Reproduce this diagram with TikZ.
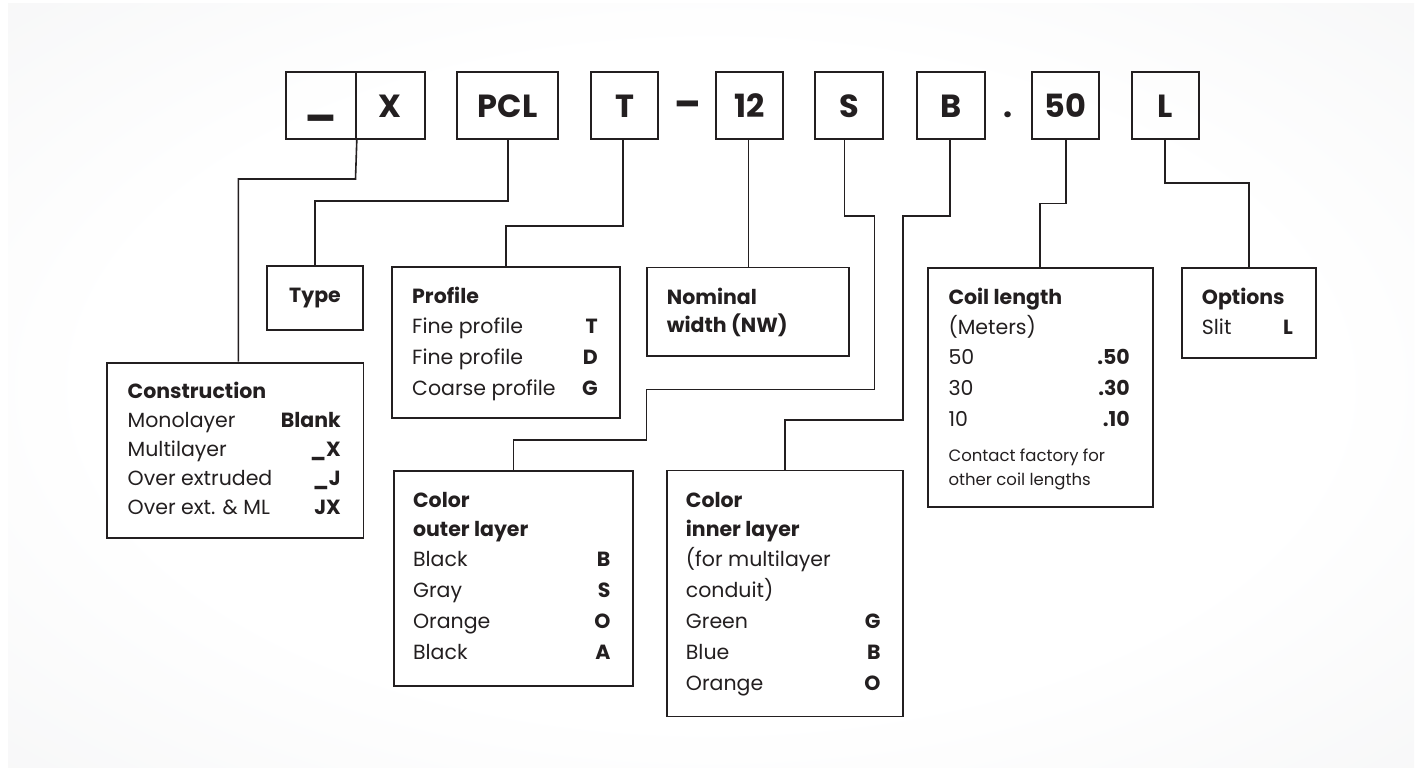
\documentclass[tikz,border=0pt]{standalone}
\usepackage{fontspec}
\setmainfont{Poppins}
\definecolor{ink}{HTML}{231F20}
\definecolor{bggray}{HTML}{E3E4E6}
\pgfdeclareradialshading{bgshade}{\pgfpoint{0bp}{0bp}}{color(0bp)=(white); color(22bp)=(white); color(72bp)=(bggray); color(100bp)=(bggray)}
\newcommand\bodyfont{\fontsize{20.5}{25}\selectfont}
\newcommand\smallfont{\fontsize{16.5}{20}\selectfont}
\newcommand\rowtext[6]{%
  \node[lab] (#1l) at (#2,#4) {#5};
  \node[val] (#1r) at (#3,#4) {#6};}
\begin{document}
\begin{tikzpicture}[x=1pt,y=-1pt,
  codebox/.style={draw=ink, line width=2.2pt, minimum height=67pt, inner sep=0pt,
    text=ink, font=\fontsize{32}{32}\selectfont\bfseries, text height=23pt, text depth=0pt},
  infobox/.style={draw=ink, line width=1.8pt, fill=white, inner sep=0pt, anchor=north west},
  conn/.style={draw=ink, line width=1.6pt, line join=miter},
  lab/.style={anchor=base west, inner sep=0pt, font=\bodyfont, text=ink},
  val/.style={anchor=base east, inner sep=0pt, font=\bodyfont\bfseries, text=ink},
  head/.style={lab, font=\bodyfont\bfseries},
  note/.style={anchor=base west, inner sep=0pt, font=\smallfont, text=ink},
  sep/.style={inner sep=0pt, anchor=base, text=ink, font=\fontsize{32}{32}\selectfont\bfseries}]
% canvas and background panel
\useasboundingbox (0,0) rectangle (1421,768);
\fill[white] (0,0) rectangle (1421,768);
\shade[shading=bgshade] (8,4) rectangle (1414,768);

% code boxes
\node[codebox, minimum width=70pt] (bU) at (320.7,105.5) {\raisebox{4pt}{\scalebox{1.3}[1.2]{\_}}};
\node[codebox, minimum width=69pt] (bX) at (390.2,105.5) {X};
\node[codebox, minimum width=101.3pt] (bPCL) at (507.7,105.5) {PCL};
\node[codebox, minimum width=67.6pt] (bT) at (624.5,105.5) {T};
\node[sep] (dash) at (688,118) {\scalebox{1.2}[1.3]{–}};
\node[codebox, minimum width=67.6pt] (b12) at (749.5,105.5) {12};
\node[codebox, minimum width=68pt] (bS) at (849.3,105.5) {S};
\node[codebox, minimum width=67.7pt] (bB) at (951.2,105.5) {B};
\node[sep] (dot) at (1008.3,117.5) {.};
\node[codebox, minimum width=67.3pt] (b50) at (1065.7,105.5) {50};
\node[codebox, minimum width=67.6pt] (bL) at (1165.5,105.5) {L};

% info boxes
\node[infobox, minimum width=95.7pt, minimum height=64.3pt, anchor=center, font=\bodyfont\bfseries, text=ink] (type) at (315.05,298.15) {Type};
\node[infobox, minimum width=228.3pt, minimum height=150.7pt] (prof) at (391,266) {};
\node[infobox, minimum width=202.6pt, minimum height=88.5pt] (nom) at (645.7,266.5) {};
\node[infobox, minimum width=225pt, minimum height=239.3pt] (coil) at (926.7,266.7) {};
\node[infobox, minimum width=134pt, minimum height=90.6pt] (opt) at (1181,266.7) {};
\node[infobox, minimum width=256.1pt, minimum height=175pt] (cons) at (106.4,361.7) {};
\node[infobox, minimum width=239.1pt, minimum height=215pt] (outer) at (392.9,470) {};
\node[infobox, minimum width=236.6pt, minimum height=246pt] (inner) at (665.7,469.5) {};

% connectors
\draw[conn] (bU.south east) -- (355.5,179) -| ([xshift=3pt]cons.north);
\draw[conn] (bPCL.south) -- (507.7,201) -| (type.north);
\draw[conn] ([xshift=-1.5pt]bT.south) -- (623,226) -| (prof.north);
\draw[conn] ([xshift=-1pt]b12.south) -- (nom.north -| 748.5,0);
\draw[conn] ([xshift=-5pt]bS.south) -- (844.3,215.7) -- (874.3,215.7) -- (874.3,389.3)
  -- (646.5,389.3) -- (646.5,440) -| (outer.north);
\draw[conn] ([xshift=-1pt]bB.south) -- (950.2,215.7) -- (902.7,215.7) -- (902.7,420) -| (inner.north);
\draw[conn] (b50.south) -- (1065.7,203.3) -| (coil.north);
\draw[conn] ([xshift=-0.5pt]bL.south) -- (1165,182.7) -| (opt.north);

% Profile
\node[head] (profh) at (412,303) {Profile};
\rowtext{prof1}{412}{598}{333.7}{Fine profile}{T}
\rowtext{prof2}{412}{598}{364.4}{Fine profile}{D}
\rowtext{prof3}{412}{598}{395}{Coarse profile}{G}

% Nominal width
\node[head] (nomh1) at (666.7,304) {Nominal};
\node[head] (nomh2) at (666.7,332.5) {width (NW)};

% Coil length
\node[head] (coilh) at (948.3,304) {Coil length};
\node[lab] (coilm) at (948.3,334) {(Meters)};
\rowtext{coil1}{948.3}{1130}{364}{50}{.50}
\rowtext{coil2}{948.3}{1130}{395}{30}{.30}
\rowtext{coil3}{948.3}{1130}{426}{10}{.10}
\node[note] (coiln1) at (948.3,461.5) {Contact factory for};
\node[note] (coiln2) at (948.3,485.5) {other coil lengths};

% Options
\node[head] (opth) at (1201.7,304) {Options};
\rowtext{opt1}{1201.7}{1293}{334}{Slit}{L}

% Construction
\node[head] (consh) at (127.5,398.5) {Construction};
\rowtext{cons1}{127.5}{341}{427.5}{Monolayer}{Blank}
\rowtext{cons2}{127.5}{341}{456.5}{Multilayer}{\_X}
\rowtext{cons3}{127.5}{341}{485.5}{Over extruded}{\_J}
\rowtext{cons4}{127.5}{341}{514.5}{Over ext. \& ML}{JX}

% Color outer layer
\node[head] (outh1) at (412.9,507) {Color};
\node[head] (outh2) at (412.9,536) {outer layer};
\rowtext{out1}{412.9}{610.7}{566.5}{Black}{B}
\rowtext{out2}{412.9}{610.7}{597.5}{Gray}{S}
\rowtext{out3}{412.9}{610.7}{628.5}{Orange}{O}
\rowtext{out4}{412.9}{610.7}{659.5}{Black}{A}

% Color inner layer
\node[head] (inh1) at (685.7,507) {Color};
\node[head] (inh2) at (685.7,536) {inner layer};
\node[lab] (inl1) at (685.7,566.5) {(for multilayer};
\node[lab] (inl2) at (685.7,597.5) {conduit)};
\rowtext{in1}{685.7}{880.7}{628.5}{Green}{G}
\rowtext{in2}{685.7}{880.7}{659.5}{Blue}{B}
\rowtext{in3}{685.7}{880.7}{690.5}{Orange}{O}
\end{tikzpicture}
\end{document}
